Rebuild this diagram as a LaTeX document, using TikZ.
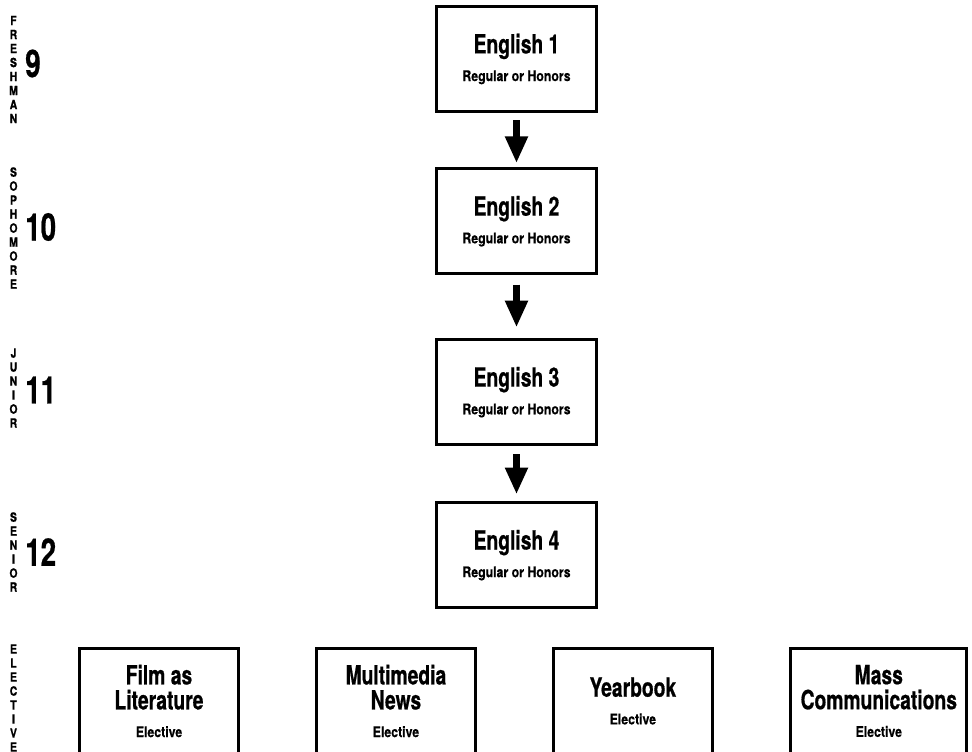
\documentclass[tikz,border=0pt]{standalone}
\usepackage{fontspec}
\usepackage{tikz}
\usetikzlibrary{positioning}
\usetikzlibrary{arrows.meta}

\newfontfamily\condfont{TeX Gyre Heros}[FakeStretch=0.73, BoldFeatures={FakeBold=0.6}]
\newfontfamily\notefont{TeX Gyre Heros}[FakeStretch=0.84, BoldFeatures={FakeBold=0.4}]
\newfontfamily\letterfont{TeX Gyre Heros}[FakeStretch=0.82, BoldFeatures={FakeBold=1}]
\newcommand{\titlesize}{\fontsize{19.8}{18.75}\selectfont}
\newcommand{\notesize}{\notefont\bfseries\fontsize{11}{12}\selectfont}
\newcommand{\gradesize}{\fontsize{28.5}{30}\selectfont}
\newcommand{\lettersize}{\fontsize{9.5}{10.5}\selectfont}

\begin{document}
\begin{tikzpicture}[x=0.75pt, y=-0.75pt,
                          coursenode/.style={rectangle, draw, line width=2.2pt, minimum width=120pt, minimum height=79pt, align=center, font=\condfont\bfseries\titlesize},
                          electivenode/.style={coursenode, minimum width=119.5pt},
                          gradenode/.style={anchor=west, inner sep=0pt, font=\condfont\bfseries\gradesize},
                          levelnode/.style={align=center, inner sep=0pt, font=\letterfont\bfseries\lettersize},
                          bigarrow/.style={line width=5.25pt, -{Triangle[width=16pt, length=20pt]}, shorten <=5.5pt, shorten >=3pt},
                      ]
                      \useasboundingbox (0,0) rectangle (972,752);
                      \clip (0,0) rectangle (972,752);

                      %Nodes
                      \node[coursenode]    (eng1)    at (516.5,59)           {English 1\\[2pt]{\notesize Regular or Honors}};
                      \node[coursenode]    (eng2)    [below=40.5pt of eng1]  {English 2\\[2pt]{\notesize Regular or Honors}};
                      \node[coursenode]    (eng3)    [below=47pt of eng2]    {English 3\\[2pt]{\notesize Regular or Honors}};
                      \node[coursenode]    (eng4)    [below=41pt of eng3]    {English 4\\[2pt]{\notesize Regular or Honors}};

                      \node[electivenode]  (film)      at (159,701)            {Film as\\Literature\\[2pt]{\notesize Elective}};
                      \node[electivenode]  (news)      [right=56pt of film]    {Multimedia\\News\\[2pt]{\notesize Elective}};
                      \node[electivenode]  (yearbook)  [right=56pt of news]    {Yearbook\\[2pt]{\notesize Elective}};
                      \node[electivenode, minimum width=132pt]  (masscomm)  [right=56.5pt of yearbook]  {Mass\\Communications\\[2pt]{\notesize Elective}};

                      \node[gradenode]     (g9)      at (25,63.5)    {9};
                      \node[gradenode]     (g10)     at (25,227)     {10};
                      \node[gradenode]     (g11)     at (25,390)     {11};
                      \node[gradenode]     (g12)     at (25,552)     {12};

                      \node[levelnode]     (freshman)   at (13.5,69.5)   {F\\R\\E\\S\\H\\M\\A\\N};
                      \node[levelnode]     (sophomore)  at (13.5,228)    {S\\O\\P\\H\\O\\M\\O\\R\\E};
                      \node[levelnode]     (junior)     at (13.5,388)    {J\\U\\N\\I\\O\\R};
                      \node[levelnode]     (senior)     at (13.5,552)    {S\\E\\N\\I\\O\\R};
                      \node[levelnode]     (elective)   at (13.5,698)    {E\\L\\E\\C\\T\\I\\V\\E};

                      %Lines
                      \draw[bigarrow] (eng1.south) -- (eng2.north);
                      \draw[bigarrow, shorten <=7pt, shorten >=8pt] (eng2.south) -- (eng3.north);
                      \draw[bigarrow, shorten <=6pt, shorten >=5pt] (eng3.south) -- (eng4.north);
                  \end{tikzpicture}
\end{document}
